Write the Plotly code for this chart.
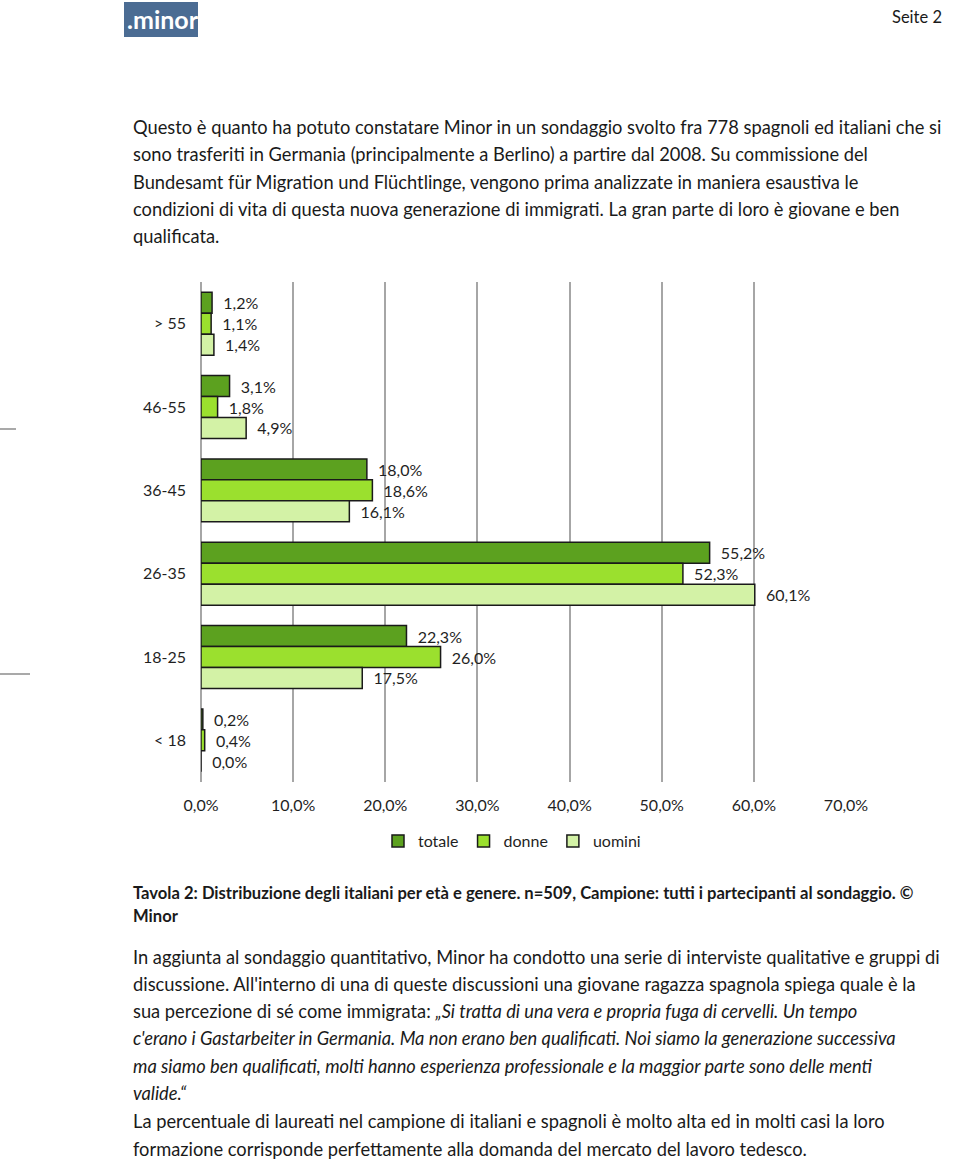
import plotly.graph_objects as go

categories = ["> 55", "46-55", "36-45", "26-35", "18-25", "< 18"]
totale = [1.2, 3.1, 18.0, 55.2, 22.3, 0.2]
donne = [1.1, 1.8, 18.6, 52.3, 26.0, 0.4]
uomini = [1.4, 4.9, 16.1, 60.1, 17.5, 0.0]
series_names = ["totale", "donne", "uomini"]
colors = ["#5ca11f", "#9be02e", "#d3f2a6"]
x_ticks = [0, 10, 20, 30, 40, 50, 60, 70]

FONT = "Lato"
W, H = 960, 1159
ml, mt, mr, mb = 201, 282, 114, 377
pw, ph = W - ml - mr, H - mt - mb


def px(x):
    return (x - ml) / pw


def py(y):
    return 1 - (y - mt) / ph


def fmt(v):
    return "  " + f"{v:.1f}".replace(".", ",") + "%"


fig = go.Figure()
for name, vals, col in zip(series_names, [totale, donne, uomini], colors):
    fig.add_trace(go.Bar(
        name=name, y=categories, x=vals, orientation="h",
        marker=dict(color=col, line=dict(color="#1a1a1a", width=1.5)),
        text=[fmt(v) for v in vals], textposition="outside",
        textfont=dict(family=FONT, size=16, color="#1f1f1f"),
        cliponaxis=False, constraintext="none",
    ))

fig.update_layout(
    width=W, height=H, margin=dict(l=ml, r=mr, t=mt, b=mb),
    paper_bgcolor="white", plot_bgcolor="white",
    barmode="group", bargap=0.245, bargroupgap=0,
    font=dict(family=FONT, size=16, color="#1f1f1f"),
    showlegend=True,
    legend=dict(orientation="h", x=px(512), xanchor="center", y=py(841), yanchor="middle",
                font=dict(family=FONT, size=16, color="#1f1f1f"), traceorder="normal",
                itemwidth=30, bgcolor="rgba(0,0,0,0)"),
    xaxis=dict(range=[0, 70], tickvals=x_ticks,
               ticktext=[f"{t:.1f}".replace(".", ",") + "%" for t in x_ticks],
               showgrid=True, gridcolor="#a6a6a6", gridwidth=1.5,
               zeroline=True, zerolinecolor="#a6a6a6", zerolinewidth=1.5,
               showline=False, ticks="", ticklabelstandoff=12,
               tickfont=dict(family=FONT, size=16, color="#1f1f1f"), fixedrange=True),
    yaxis=dict(autorange="reversed", showgrid=False, showline=False, ticks="",
               ticklabelstandoff=14, tickfont=dict(family=FONT, size=16, color="#1f1f1f")),
)

ann = []
shapes = []

# header logo
shapes.append(dict(type="rect", xref="paper", yref="paper", x0=px(124), x1=px(198), y0=py(2), y1=py(37),
                   fillcolor="#4b6c93", line=dict(width=0), layer="above"))
ann.append(dict(text="<b>.minor</b>", x=px(125), y=py(19), xanchor="left", yanchor="middle",
                font=dict(family=FONT, size=25, color="white")))
ann.append(dict(text="Seite 2", x=px(944), y=py(17), xanchor="right", yanchor="middle",
                font=dict(family=FONT, size=16.5, color="#1a1a1a")))

# left margin marks
shapes.append(dict(type="line", xref="paper", yref="paper", x0=px(0), x1=px(16), y0=py(429), y1=py(429),
                   line=dict(color="#8c8c8c", width=1.5)))
shapes.append(dict(type="line", xref="paper", yref="paper", x0=px(0), x1=px(30), y0=py(674), y1=py(674),
                   line=dict(color="#8c8c8c", width=1.5)))

para1 = [
    "Questo è quanto ha potuto constatare Minor in un sondaggio svolto fra 778 spagnoli ed italiani che si",
    "sono trasferiti in Germania (principalmente a Berlino) a partire dal 2008. Su commissione del",
    "Bundesamt für Migration und Flüchtlinge, vengono prima analizzate in maniera esaustiva le",
    "condizioni di vita di questa nuova generazione di immigrati. La gran parte di loro è giovane e ben",
    "qualificata.",
]
para1_y = [127, 154, 182, 209, 236]
caption = [
    "<b>Tavola 2: Distribuzione degli italiani per età e genere. n=509, Campione: tutti i partecipanti al sondaggio. ©</b>",
    "<b>Minor</b>",
]
caption_y = [893, 916]
para2 = [
    "In aggiunta al sondaggio quantitativo, Minor ha condotto una serie di interviste qualitative e gruppi di",
    "discussione. All'interno di una di queste discussioni una giovane ragazza spagnola spiega quale è la",
    "sua percezione di sé come immigrata: <i>„Si tratta di una vera e propria fuga di cervelli. Un tempo</i>",
    "<i>c'erano i Gastarbeiter in Germania. Ma non erano ben qualificati. Noi siamo la generazione successiva</i>",
    "<i>ma siamo ben qualificati, molti hanno esperienza professionale e la maggior parte sono delle menti</i>",
    "<i>valide.“</i>",
    "La percentuale di laureati nel campione di italiani e spagnoli è molto alta ed in molti casi la loro",
    "formazione corrisponde perfettamente alla domanda del mercato del lavoro tedesco.",
]
para2_y = [957, 984, 1011, 1038, 1066, 1093, 1121, 1149]

for t, y in zip(para1, para1_y):
    ann.append(dict(text=t, x=px(131), y=py(y), xanchor="left", yanchor="middle",
                    font=dict(family=FONT, size=18.3, color="#1a1a1a")))
for t, y in zip(caption, caption_y):
    ann.append(dict(text=t, x=px(131), y=py(y), xanchor="left", yanchor="middle",
                    font=dict(family=FONT, size=16.6, color="#1a1a1a")))
for t, y in zip(para2, para2_y):
    ann.append(dict(text=t, x=px(131), y=py(y), xanchor="left", yanchor="middle",
                    font=dict(family=FONT, size=18.3, color="#1a1a1a")))

for a in ann:
    a.update(xref="paper", yref="paper", showarrow=False)

fig.update_layout(annotations=ann, shapes=shapes)
fig.write_html("out.html")
